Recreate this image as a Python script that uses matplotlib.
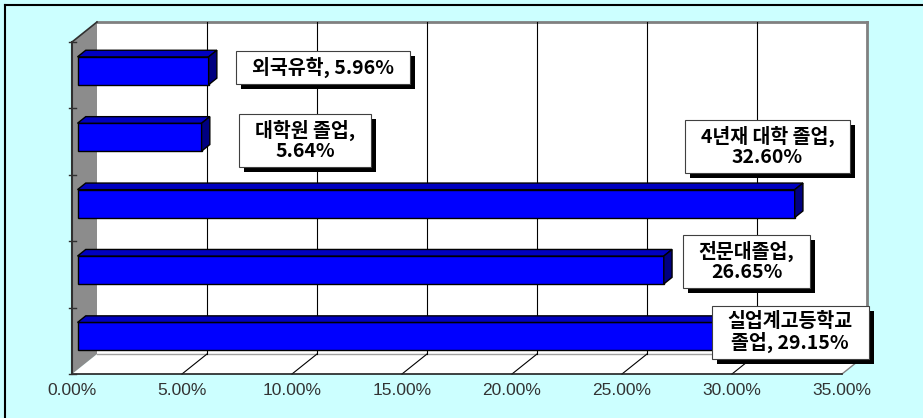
import numpy as np
import matplotlib.pyplot as plt
import matplotlib.transforms as mtransforms
from matplotlib.patches import Polygon, Rectangle

# data (bottom bar first)
categories = ['실업계고등학교 졸업', '전문대졸업', '4년재 대학 졸업', '대학원 졸업', '외국유학']
values = [29.15, 26.65, 32.60, 5.64, 5.96]
label_text = ['실업계고등학교\n졸업, 29.15%', '전문대졸업,\n26.65%', '4년재 대학 졸업,\n32.60%',
              '대학원 졸업,\n5.64%', '외국유학, 5.96%']
xticks = [0, 5, 10, 15, 20, 25, 30, 35]
xtick_labels = ['%.2f%%' % t for t in xticks]

# label box centres (data coords of the front plane)
label_pos = [(32.64, 0.13), (30.66, 1.20), (31.61, 2.93), (10.61, 3.02), (11.39, 4.12)]

W, H = 923, 418
fig = plt.figure(figsize=(W / 100, H / 100), dpi=100)
fig.patch.set_facecolor('#CCFFFF')
ax = fig.add_axes([72 / W, 1 - 374 / H, 770 / W, 332 / H])
ax.set_xlim(0, 35)
ax.set_ylim(-0.5, len(values) - 0.5)
ax.patch.set_visible(False)
for s in ax.spines.values():
    s.set_visible(False)
ax.set_yticks([])
ax.set_xticks(xticks)
ax.set_xticklabels(xtick_labels, fontsize=12.5, family='Liberation Sans', color='#333333')
ax.tick_params(axis='x', length=0, pad=6.5)

DX, DY = 25, 20   # depth offset in pixels
ident = mtransforms.IdentityTransform()


def P(x, y, d):
    px, py = ax.transData.transform((x, y))
    return (px + DX * d, py + DY * d)


def poly(pts, fc, ec='none', lw=0, z=1):
    ax.add_patch(Polygon(pts, closed=True, facecolor=fc, edgecolor=ec, linewidth=lw,
                         transform=ident, clip_on=False, zorder=z))


def line(p0, p1, c='black', lw=1, z=2):
    ax.add_line(plt.Line2D([p0[0], p1[0]], [p0[1], p1[1]], color=c, lw=lw,
                           transform=ident, clip_on=False, zorder=z))


y0, y1 = -0.5, len(values) - 0.5
xmax = xticks[-1]

# back wall
poly([P(0, y0, 1), P(xmax, y0, 1), P(xmax, y1, 1), P(0, y1, 1)], 'white', z=1)
line(P(0, y1, 1), P(xmax, y1, 1), c='#808080', lw=2)
line(P(xmax, y0, 1), P(xmax, y1, 1), c='#808080', lw=2)
# floor
poly([P(0, y0, 0), P(xmax, y0, 0), P(xmax, y0, 1), P(0, y0, 1)], 'white', z=1)
line(P(0, y0, 1), P(xmax, y0, 1), c='#a0a0a0', lw=1)
line(P(xmax, y0, 0), P(xmax, y0, 1), c='#808080', lw=1)
# gridlines
for t in xticks[1:-1]:
    line(P(t, y0, 1), P(t, y1, 1), lw=0.8)
    line(P(t, y0, 0), P(t, y0, 1), lw=0.8)
line(P(0, y0, 0), P(xmax, y0, 0), c='#202020', lw=1.2, z=3)
# left wall
poly([P(0, y0, 0), P(0, y1, 0), P(0, y1, 1), P(0, y0, 1)], '#8c8c8c', z=2)
line(P(0, y1, 0), P(0, y1, 1), c='#303030', lw=1.2, z=3)
line(P(0, y0, 0), P(0, y1, 0), c='#303030', lw=1.5, z=3)
for k in range(len(values) + 1):
    a = P(0, y0 + k, 0)
    line((a[0] - 3, a[1]), (a[0] + 4, a[1]), c='#303030', lw=1, z=3)

# 3d bars
h, d0, d1 = 0.42, 0.22, 0.55
for i, v in enumerate(values):
    b, t = i - h / 2, i + h / 2
    poly([P(0, b, d0), P(v, b, d0), P(v, t, d0), P(0, t, d0)], '#0000FF', 'black', 1, z=5)
    poly([P(0, t, d0), P(v, t, d0), P(v, t, d1), P(0, t, d1)], '#0000C0', 'black', 1, z=5)
    poly([P(v, b, d0), P(v, b, d1), P(v, t, d1), P(v, t, d0)], '#000080', 'black', 1, z=5)

# data labels, white box with black drop shadow
texts = []
for (lx, ly), s in zip(label_pos, label_text):
    tx = ax.text(lx, ly, s, ha='center', va='center', fontsize=14, fontweight='bold',
                 family=['Noto Sans CJK KR', 'DejaVu Sans'], linespacing=1.05, color='black',
                 zorder=9, clip_on=False)
    texts.append(tx)

fig.canvas.draw()
renderer = fig.canvas.get_renderer()
hpad, vpad = 16, 6
for tx in texts:
    bb = tx.get_window_extent(renderer)
    x0, yb = bb.x0 - hpad, bb.y0 - vpad
    bw, bh = bb.width + 2 * hpad, bb.height + 2 * vpad
    ax.add_patch(Rectangle((x0 + 5, yb - 5), bw, bh, transform=ident,
                           fc='black', ec='none', zorder=7, clip_on=False))
    ax.add_patch(Rectangle((x0, yb), bw, bh, transform=ident,
                           fc='white', ec='#404040', lw=0.8, zorder=8, clip_on=False))

# outer frame (only top and left edges fall inside the picture)
fig.add_artist(plt.Line2D([5 / W, 1], [1 - 5 / H, 1 - 5 / H], transform=fig.transFigure,
                          color='black', lw=1.5))
fig.add_artist(plt.Line2D([5 / W, 5 / W], [0, 1 - 5 / H], transform=fig.transFigure,
                          color='black', lw=1.5))

fig.savefig('out.png', dpi=100, facecolor=fig.get_facecolor())
